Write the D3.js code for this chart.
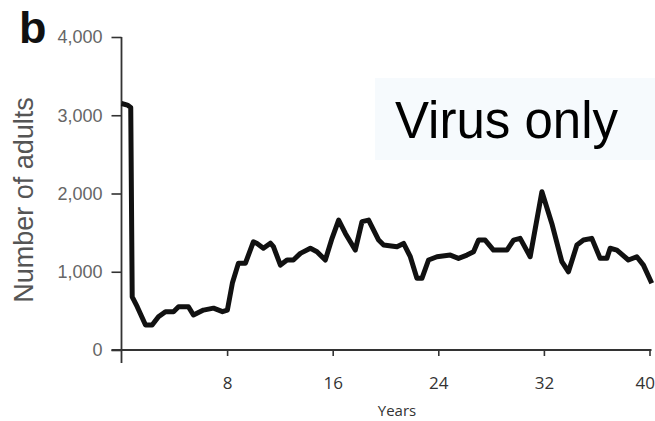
<!DOCTYPE html>
<html>
<head>
<meta charset="utf-8">
<script src="https://cdn.jsdelivr.net/npm/d3@7"></script>
<style>
  body { margin: 0; background: #fff; }
</style>
</head>
<body>
<svg id="chart" width="655" height="421"></svg>
<script>
// Data (years, number of adults)
const years = [0, 0.45, 0.7, 0.81, 1.19, 1.82, 2.32, 2.80, 3.33, 3.94, 4.32, 5.07, 5.45, 6.21, 6.97, 7.65, 8.02,
  8.40, 8.86, 9.39, 9.99, 10.27, 10.75, 11.28, 11.51, 12.04, 12.54, 13.02, 13.55, 14.31, 14.81, 15.44,
  15.95, 16.45, 16.96, 17.71, 18.22, 18.72, 19.48, 19.86, 20.87, 21.37, 21.88, 22.38, 22.76, 23.26,
  23.90, 24.91, 25.53, 26.17, 26.67, 27.05, 27.55, 28.18, 29.20, 29.70, 30.20, 30.96, 31.85, 32.60,
  33.36, 33.86, 34.50, 35.00, 35.63, 36.26, 36.77, 37.02, 37.53, 38.40, 39.04, 39.54, 40.17];
const adults = [3150, 3130, 3100, 680, 553, 320, 320, 425, 490, 490, 553, 553, 447, 510, 535, 490, 510,
  855, 1110, 1110, 1383, 1360, 1300, 1365, 1320, 1085, 1150, 1150, 1235, 1300, 1255, 1150,
  1427, 1660, 1490, 1277, 1640, 1660, 1405, 1341, 1320, 1362, 1192, 916, 916, 1150,
  1192, 1213, 1171, 1213, 1255, 1405, 1405, 1277, 1277, 1405, 1427, 1192, 2022, 1618,
  1128, 1000, 1341, 1405, 1427, 1171, 1171, 1300, 1277, 1150, 1192, 1085, 852];
const yTicks = [0, 1000, 2000, 3000, 4000];
const xTicks = [8, 16, 24, 32, 40];

const svg = d3.select("#chart");
const x = d3.scaleLinear().domain([0, 40]).range([121.5, 649.5]);
const y = d3.scaleLinear().domain([0, 4000]).range([350, 37]);

// Faint box behind the label
svg.append("rect")
    .attr("x", 375).attr("y", 78)
    .attr("width", 280).attr("height", 82)
    .attr("fill", "#f6fafd");

svg.append("text")
    .attr("x", 395).attr("y", 138)
    .style("font-family", "Liberation Sans, Arial, sans-serif")
    .style("font-size", "51px")
    .attr("fill", "#000")
    .text("Virus only");

// Panel letter
svg.append("text")
    .attr("x", 19).attr("y", 43)
    .style("font-family", "Liberation Sans, Arial, sans-serif")
    .style("font-size", "45px")
    .style("font-weight", "bold")
    .attr("fill", "#111")
    .text("b");

// Y axis
const yAxis = svg.append("g")
    .attr("transform", "translate(" + x(0) + ",0)")
    .call(d3.axisLeft(y).tickValues(yTicks).tickSize(10).tickSizeOuter(0).tickPadding(9)
        .tickFormat(d3.format(",")));
yAxis.select(".domain").remove();
yAxis.selectAll("line").attr("stroke", "#333").attr("stroke-width", 1.6);
yAxis.selectAll("text")
    .style("font-family", "Liberation Sans, Arial, sans-serif")
    .style("font-size", "18px")
    .attr("fill", "#666");
svg.append("line")
    .attr("x1", x(0)).attr("x2", x(0))
    .attr("y1", y(4000)).attr("y2", y(0) + 13)
    .attr("stroke", "#333").attr("stroke-width", 1.8);

// X axis
const xAxis = svg.append("g")
    .attr("transform", "translate(0," + y(0) + ")")
    .call(d3.axisBottom(x).tickValues(xTicks).tickSize(6).tickSizeOuter(0).tickPadding(21));
xAxis.select(".domain").remove();
xAxis.selectAll("line").attr("stroke", "#333").attr("stroke-width", 1.6);
xAxis.selectAll("text")
    .style("font-family", "Open Sans, sans-serif")
    .style("font-size", "17px")
    .attr("fill", "#333");
// last label sits against the right edge
xAxis.selectAll("text").filter(d => d === 40).attr("text-anchor", "end").attr("x", 5);
svg.append("line")
    .attr("x1", x(0) - 10).attr("x2", x(40) + 2)
    .attr("y1", y(0)).attr("y2", y(0))
    .attr("stroke", "#333").attr("stroke-width", 1.8);

// Axis titles
svg.append("text")
    .attr("transform", "translate(33,200) rotate(-90)")
    .attr("text-anchor", "middle")
    .style("font-family", "Liberation Sans, Arial, sans-serif")
    .style("font-size", "27px")
    .attr("fill", "#555")
    .text("Number of adults");

svg.append("text")
    .attr("x", 397).attr("y", 416)
    .attr("text-anchor", "middle")
    .style("font-family", "Open Sans, sans-serif")
    .style("font-size", "15px")
    .attr("fill", "#333")
    .text("Years");

// Population line
const line = d3.line().x((d, i) => x(years[i])).y(d => y(d));
svg.append("path")
    .datum(adults)
    .attr("d", line)
    .attr("fill", "none")
    .attr("stroke", "#111")
    .attr("stroke-width", 5)
    .attr("stroke-linejoin", "round");
</script>
</body>
</html>
